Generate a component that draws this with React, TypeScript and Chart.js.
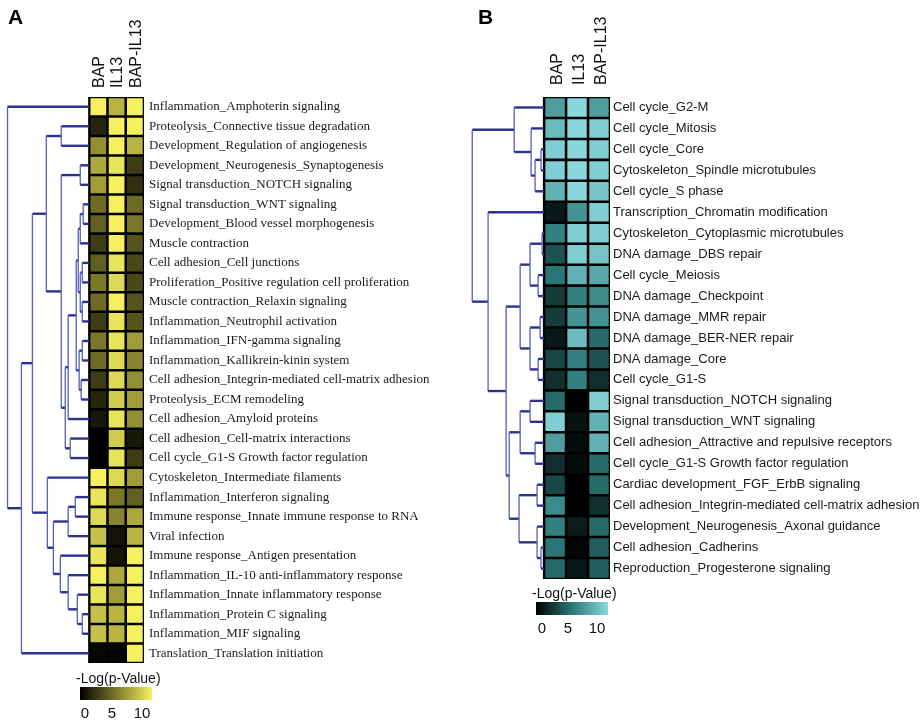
import React, { useEffect, useRef } from 'react';
import { Chart, registerables } from 'chart.js';
Chart.register(...registerables);

const colLabels = ['BAP', 'IL13', 'BAP-IL13'];

const rowsA = [
  'Inflammation_Amphoterin signaling',
  'Proteolysis_Connective tissue degradation',
  'Development_Regulation of angiogenesis',
  'Development_Neurogenesis_Synaptogenesis',
  'Signal transduction_NOTCH signaling',
  'Signal transduction_WNT signaling',
  'Development_Blood vessel morphogenesis',
  'Muscle contraction',
  'Cell adhesion_Cell junctions',
  'Proliferation_Positive regulation cell proliferation',
  'Muscle contraction_Relaxin signaling',
  'Inflammation_Neutrophil activation',
  'Inflammation_IFN-gamma signaling',
  'Inflammation_Kallikrein-kinin system',
  'Cell adhesion_Integrin-mediated cell-matrix adhesion',
  'Proteolysis_ECM remodeling',
  'Cell adhesion_Amyloid proteins',
  'Cell adhesion_Cell-matrix interactions',
  'Cell cycle_G1-S Growth factor regulation',
  'Cytoskeleton_Intermediate filaments',
  'Inflammation_Interferon signaling',
  'Immune response_Innate immune response to RNA',
  'Viral infection',
  'Immune response_Antigen presentation',
  'Inflammation_IL-10 anti-inflammatory response',
  'Inflammation_Innate inflammatory response',
  'Inflammation_Protein C signaling',
  'Inflammation_MIF signaling',
  'Translation_Translation initiation',
];
const bapA = [10, 1.5, 6, 7, 6.5, 4.5, 4, 2.5, 4, 5, 4.5, 2.5, 5, 4.5, 2.5, 1.5, 1, 0, 0, 10, 9.5, 9, 8, 9.5, 10, 9.5, 8, 8, 0.3];
const il13A = [7.5, 10, 10, 9.5, 10, 10, 10, 10, 9.5, 9, 10, 9.5, 9.5, 9, 9, 8.5, 9.5, 8.5, 9.5, 9, 5, 5.5, 0.8, 0.8, 7, 6.5, 7.5, 7.5, 0.2];
const bapIl13A = [10, 10, 7.5, 2.5, 2, 4.5, 5, 3.5, 3, 3, 3.5, 3.5, 6.5, 5.5, 6, 6.5, 6, 1, 2.5, 6.5, 4, 7, 7.5, 10, 10, 10, 10, 10, 10];
// linkage: [child, child, merge height]; leaves 0..28, merged nodes numbered from 29
const linkA: [number, number, number][] = [
  [1, 2, 1.53], [3, 4, 0.49], [5, 6, 0.33], [31, 7, 0.49], [8, 9, 0.38], [10, 11, 0.38],
  [33, 34, 0.49], [32, 35, 0.6], [12, 13, 0.38], [14, 15, 0.44], [37, 38, 0.55], [36, 39, 0.71],
  [40, 16, 1.15], [17, 18, 1.04], [41, 42, 1.31], [30, 43, 1.53], [29, 44, 2.35],
  [20, 21, 0.76], [46, 22, 1.15], [26, 27, 0.38], [25, 48, 0.65], [24, 49, 1.15], [23, 50, 1.58],
  [47, 51, 1.96], [19, 52, 2.29], [45, 53, 3.11], [54, 28, 3.71], [0, 55, 4.47],
];

const rowsB = [
  'Cell cycle_G2-M',
  'Cell cycle_Mitosis',
  'Cell cycle_Core',
  'Cytoskeleton_Spindle microtubules',
  'Cell cycle_S phase',
  'Transcription_Chromatin modification',
  'Cytoskeleton_Cytoplasmic microtubules',
  'DNA damage_DBS repair',
  'Cell cycle_Meiosis',
  'DNA damage_Checkpoint',
  'DNA damage_MMR repair',
  'DNA damage_BER-NER repair',
  'DNA damage_Core',
  'Cell cycle_G1-S',
  'Signal transduction_NOTCH signaling',
  'Signal transduction_WNT signaling',
  'Cell adhesion_Attractive and repulsive receptors',
  'Cell cycle_G1-S Growth factor regulation',
  'Cardiac development_FGF_ErbB signaling',
  'Cell adhesion_Integrin-mediated cell-matrix adhesion',
  'Development_Neurogenesis_Axonal guidance',
  'Cell adhesion_Cadherins',
  'Reproduction_Progesterone signaling',
];
const bapB = [7, 8.5, 9.5, 9.5, 8, 1, 5.5, 3.5, 5, 2.5, 2.5, 1, 3, 2, 4.5, 9.5, 7, 2, 3, 6, 5.5, 5, 4.5];
const il13B = [10, 10, 10, 10, 10, 6.5, 9.5, 9.5, 8, 5.5, 6.5, 8.5, 5.5, 5.5, 0, 0.8, 0.5, 0.5, 0, 0, 1.2, 0.2, 1];
const bapIl13B = [7, 9.5, 9.5, 9.5, 9, 9.5, 9.5, 9, 7.5, 6, 6.5, 4.5, 3.5, 2, 9.5, 8, 8, 4.5, 4.5, 2, 4.5, 4, 4];
const linkB: [number, number, number][] = [
  [2, 3, 0.14], [23, 4, 0.41], [1, 24, 0.59], [0, 25, 1.36],
  [6, 7, 0.09], [8, 9, 0.27], [27, 28, 0.64], [10, 11, 0.18], [12, 13, 0.27], [30, 31, 0.64], [29, 32, 1.09],
  [14, 15, 0.64], [16, 17, 0.41], [34, 35, 1.09], [18, 19, 0.32], [21, 22, 0.14], [20, 38, 0.32],
  [37, 39, 1.14], [36, 40, 1.59], [33, 41, 1.73], [5, 42, 2.55], [26, 43, 3.27],
];

const legendTicks = ['0', '5', '10'];

type Stop = [number, number, number];
const stopsA: Stop[] = [[0, 0, 0], [122, 120, 40], [246, 240, 96]];
const stopsB: Stop[] = [[0, 0, 0], [42, 118, 118], [136, 216, 222]];

function colorFor(v: number, stops: Stop[]) {
  const t = Math.max(0, Math.min(1, v / 10));
  const seg = t < 0.5 ? 0 : 1;
  const f = seg === 0 ? t / 0.5 : (t - 0.5) / 0.5;
  const a = stops[seg], b = stops[seg + 1];
  const c = a.map((x, i) => Math.round(x + (b[i] - x) * f));
  return `rgb(${c[0]},${c[1]},${c[2]})`;
}

// dendrogram polylines in data units: x = -height, y = row index (fractional for merged nodes)
function dendro(n: number, links: [number, number, number][]) {
  const ys: number[] = Array.from({ length: n }, (_, i) => i);
  const hs: number[] = Array(n).fill(0);
  const out: { x: number; y: number }[][] = [];
  links.forEach(([a, b, h]) => {
    out.push([
      { x: -hs[a], y: ys[a] },
      { x: -h, y: ys[a] },
      { x: -h, y: ys[b] },
      { x: -hs[b], y: ys[b] },
    ]);
    ys.push((ys[a] + ys[b]) / 2);
    hs.push(h);
  });
  return out;
}

type PanelCfg = {
  rows: string[];
  series: number[][];
  links: [number, number, number][];
  stops: Stop[];
  xMin: number;
  padLeft: number;
  topH: number;
  rightW: number;
  padBottom: number;
  labelFont: { family: string; size: number };
  labelPad: number;
  colPad: number;
  colOffset: number;
};

const NAVY = '#2c3190';
const THIN = '#5561bb';

function buildConfig(p: PanelCfg): any {
  const n = p.rows.length;
  const bg = {
    type: 'bar',
    data: p.rows.map(() => [-0.04, 3.04]),
    backgroundColor: '#000',
    barPercentage: 1,
    categoryPercentage: 1,
    grouped: false,
    indexAxis: 'y',
    xAxisID: 'x',
    yAxisID: 'y',
    order: 10,
  };
  const cells = p.series.map((vals, c) => ({
    type: 'bar',
    data: vals.map(() => [c, c + 1]),
    backgroundColor: vals.map((v) => colorFor(v, p.stops)),
    borderColor: '#000',
    borderWidth: 1.6,
    borderSkipped: false,
    barPercentage: 1,
    categoryPercentage: 1,
    grouped: false,
    indexAxis: 'y',
    xAxisID: 'x',
    yAxisID: 'y',
    order: 5,
  }));
  const isVert = (ctx: any) => Math.abs(ctx.p0.x - ctx.p1.x) < 0.5;
  const lines = dendro(n, p.links).map((pts) => ({
    type: 'line',
    data: pts,
    parsing: false,
    normalized: false,
    indexAxis: 'x',
    xAxisID: 'x',
    yAxisID: 'y',
    borderColor: NAVY,
    borderWidth: 2.4,
    pointRadius: 0,
    pointHoverRadius: 0,
    fill: false,
    tension: 0,
    clip: false,
    order: 1,
    segment: {
      borderWidth: (ctx: any) => (isVert(ctx) ? 1.3 : 2.4),
      borderColor: (ctx: any) => (isVert(ctx) ? THIN : NAVY),
    },
  }));
  return {
    type: 'bar',
    data: { labels: p.rows, datasets: [...lines, ...cells, bg] },
    options: {
      indexAxis: 'y',
      animation: false,
      responsive: false,
      maintainAspectRatio: false,
      events: [],
      layout: { padding: { left: p.padLeft, top: 0, right: 0, bottom: p.padBottom } },
      plugins: { legend: { display: false }, tooltip: { enabled: false } },
      scales: {
        x: {
          type: 'linear',
          position: 'top',
          min: p.xMin,
          max: 3,
          grid: { display: false, drawTicks: false },
          border: { display: false },
          afterBuildTicks: (s: any) => {
            s.ticks = [0.5, 1.5, 2.5].map((v) => ({ value: v }));
          },
          afterFit: (s: any) => {
            s.height = p.topH;
          },
          ticks: {
            autoSkip: false,
            minRotation: 90,
            maxRotation: 90,
            padding: p.colPad,
            labelOffset: p.colOffset,
            color: '#111',
            font: { family: 'Liberation Sans, Arial, sans-serif', size: 16 },
            callback: (_v: any, i: number) => colLabels[i],
          },
        },
        y: {
          type: 'category',
          position: 'right',
          offset: true,
          grid: { display: false, drawTicks: false },
          border: { display: false },
          afterFit: (s: any) => {
            s.width = p.rightW;
          },
          ticks: {
            autoSkip: false,
            padding: p.labelPad,
            color: '#1a1a1a',
            font: p.labelFont,
          },
        },
      },
    },
  };
}

function Panel({ cfg, left }: { cfg: PanelCfg; left: number }) {
  const ref = useRef<HTMLCanvasElement | null>(null);
  useEffect(() => {
    if (!ref.current) return;
    const chart = new Chart(ref.current, buildConfig(cfg));
    return () => chart.destroy();
  }, []);
  return (
    <canvas
      ref={ref}
      width={460}
      height={723}
      style={{ position: 'absolute', left, top: 0, width: 460, height: 723 }}
    />
  );
}

function ColorLegend({ x, y, stops, tickXs }: { x: number; y: number; stops: Stop[]; tickXs: number[] }) {
  const grad = `linear-gradient(to right, ${stops.map((s) => `rgb(${s[0]},${s[1]},${s[2]})`).join(', ')})`;
  const font = 'Liberation Sans, Arial, sans-serif';
  return (
    <>
      <div style={{ position: 'absolute', left: x - 4, top: y - 17, font: `14px ${font}`, color: '#111', whiteSpace: 'nowrap' }}>
        -Log(p-Value)
      </div>
      <div style={{ position: 'absolute', left: x, top: y, width: 72, height: 13, background: grad }} />
      {legendTicks.map((t, i) => (
        <div
          key={t}
          style={{
            position: 'absolute',
            left: tickXs[i] - 20,
            width: 40,
            textAlign: 'center',
            top: y + 17,
            font: `15px ${font}`,
            color: '#111',
          }}
        >
          {t}
        </div>
      ))}
    </>
  );
}

const cfgA: PanelCfg = {
  rows: rowsA,
  series: [bapA, il13A, bapIl13A],
  links: linkA,
  stops: stopsA,
  xMin: -4.5,
  padLeft: 7,
  topH: 97,
  rightW: 316,
  padBottom: 60,
  labelFont: { family: 'Liberation Serif, Times New Roman, serif', size: 13 },
  labelPad: 5,
  colPad: 9,
  colOffset: 20.5,
};

const cfgB: PanelCfg = {
  rows: rowsB,
  series: [bapB, il13B, bapIl13B],
  links: linkB,
  stops: stopsB,
  xMin: -3.3,
  padLeft: 11.6,
  topH: 97,
  rightW: 310,
  padBottom: 144,
  labelFont: { family: 'Liberation Sans, Arial, sans-serif', size: 13 },
  labelPad: 3,
  colPad: 12,
  colOffset: 21.5,
};

export default function App() {
  const letter = { position: 'absolute' as const, top: 5, font: 'bold 21px Liberation Sans, Arial, sans-serif', color: '#000' };
  return (
    <div style={{ position: 'absolute', left: 0, top: 0, width: 920, height: 723, background: '#fff', overflow: 'hidden' }}>
      <Panel cfg={cfgA} left={0} />
      <Panel cfg={cfgB} left={460} />
      <div style={{ ...letter, left: 8 }}>A</div>
      <div style={{ ...letter, left: 478 }}>B</div>
      <ColorLegend x={80} y={687} stops={stopsA} tickXs={[85, 112, 142]} />
      <ColorLegend x={536} y={602} stops={stopsB} tickXs={[542, 568, 597]} />
    </div>
  );
}
